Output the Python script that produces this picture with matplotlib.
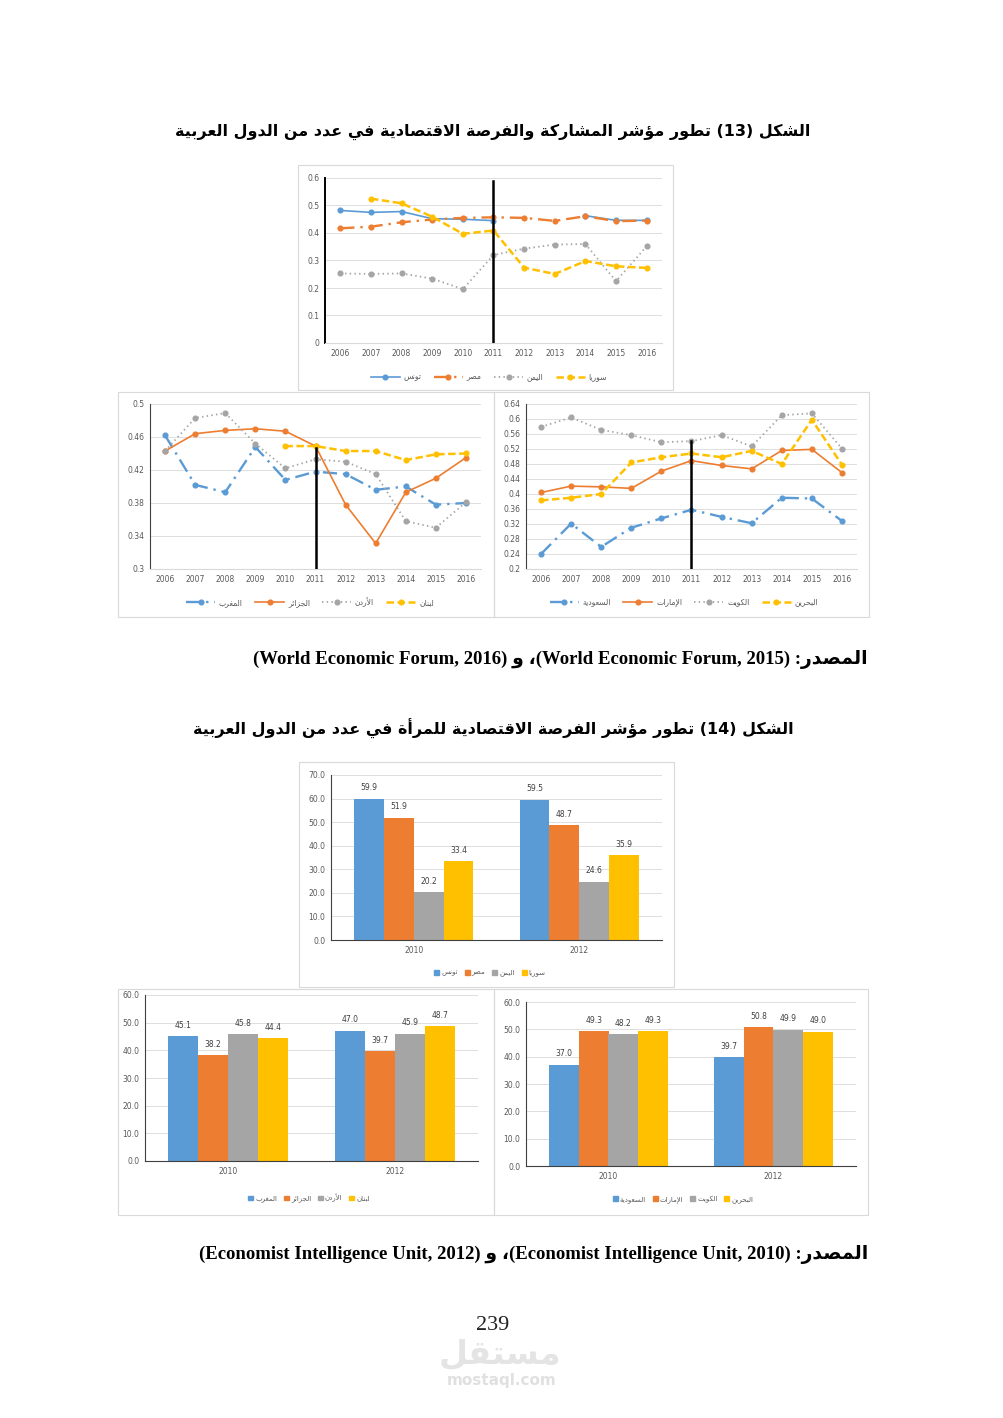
import numpy as np
import matplotlib
matplotlib.use('Agg')
import matplotlib.pyplot as plt
from matplotlib.patches import Rectangle, Patch

# Page size in pixels (dpi 100)
W, H = 1004, 1418

# ---------------------------------------------------------------------------
# Data
# ---------------------------------------------------------------------------
years = ['2006', '2007', '2008', '2009', '2010', '2011', '2012', '2013', '2014', '2015', '2016']
break_year = '2011'

# Figure 13, top chart
tunisia = [0.482, 0.475, 0.478, 0.452, 0.450, 0.445, np.nan, np.nan, 0.463, 0.446, 0.446]
egypt = [0.417, 0.423, 0.439, 0.449, 0.455, 0.457, 0.455, 0.444, 0.461, 0.443, 0.445]
yemen = [0.253, 0.251, 0.253, 0.234, 0.196, 0.320, 0.343, 0.358, 0.360, 0.225, 0.352]
syria = [np.nan, 0.525, 0.508, 0.459, 0.397, 0.409, 0.274, 0.251, 0.298, 0.279, 0.273]
top_names = ['تونس', 'مصر', 'اليمن', 'سوريا']
top_yticks = [0, 0.1, 0.2, 0.3, 0.4, 0.5, 0.6]
top_ylabels = ['0', '0.1', '0.2', '0.3', '0.4', '0.5', '0.6']
top_break_height = 0.59

# Figure 13, lower left chart
morocco = [0.462, 0.402, 0.393, 0.448, 0.408, 0.418, 0.415, 0.396, 0.400, 0.378, 0.380]
algeria = [0.443, 0.464, 0.468, 0.470, 0.467, 0.449, 0.378, 0.331, 0.393, 0.410, 0.435]
jordan = [0.443, 0.483, 0.489, 0.452, 0.422, 0.433, 0.430, 0.415, 0.358, 0.350, 0.381]
lebanon = [np.nan, np.nan, np.nan, np.nan, 0.449, 0.449, 0.443, 0.443, 0.432, 0.439, 0.440]
left_names = ['المغرب', 'الجزائر', 'الأردن', 'لبنان']
left_yticks = [0.30, 0.34, 0.38, 0.42, 0.46, 0.50]
left_ylabels = ['0.3', '0.34', '0.38', '0.42', '0.46', '0.5']
left_break_height = 0.447

# Figure 13, lower right chart
saudi = [0.240, 0.321, 0.259, 0.310, 0.335, 0.358, 0.339, 0.322, 0.390, 0.388, 0.328]
uae = [0.404, 0.421, 0.419, 0.415, 0.461, 0.489, 0.476, 0.467, 0.516, 0.519, 0.457]
kuwait = [0.579, 0.604, 0.571, 0.557, 0.538, 0.541, 0.557, 0.527, 0.610, 0.615, 0.521]
bahrain = [0.383, 0.390, 0.400, 0.484, 0.498, 0.508, 0.498, 0.515, 0.480, 0.598, 0.478]
right_names = ['السعودية', 'الإمارات', 'الكويت', 'البحرين']
right_yticks = [0.20, 0.24, 0.28, 0.32, 0.36, 0.40, 0.44, 0.48, 0.52, 0.56, 0.60, 0.64]
right_ylabels = ['0.2', '0.24', '0.28', '0.32', '0.36', '0.4', '0.44', '0.48', '0.52', '0.56', '0.6', '0.64']
right_break_height = 0.54

# Figure 14, bar charts (2010, 2012)
bar_years = ['2010', '2012']
bars_top = [[59.9, 59.5], [51.9, 48.7], [20.2, 24.6], [33.4, 35.9]]
bars_left = [[45.1, 47.0], [38.2, 39.7], [45.8, 45.9], [44.4, 48.7]]
bars_right = [[37.0, 39.7], [49.3, 50.8], [48.2, 49.9], [49.3, 49.0]]

title_13 = 'الشكل (13) تطور مؤشر المشاركة والفرصة الاقتصادية في عدد من الدول العربية'
title_14 = 'الشكل (14) تطور مؤشر الفرصة الاقتصادية للمرأة في عدد من الدول العربية'
source_word = 'المصدر:'
and_word = 'و'
page_number = '239'

colors = ['#5B9BD5', '#ED7D31', '#A5A5A5', '#FFC000']

# ---------------------------------------------------------------------------
# Arabic shaping: matplotlib has no text shaping, so letters are mapped to
# their presentation forms and put in visual (left-to-right) order.
# ---------------------------------------------------------------------------
AR_FORMS = {
    'ء': (0xFE80, 1), 'آ': (0xFE81, 2), 'أ': (0xFE83, 2), 'ؤ': (0xFE85, 2),
    'إ': (0xFE87, 2), 'ئ': (0xFE89, 4), 'ا': (0xFE8D, 2), 'ب': (0xFE8F, 4),
    'ة': (0xFE93, 2), 'ت': (0xFE95, 4), 'ث': (0xFE99, 4), 'ج': (0xFE9D, 4),
    'ح': (0xFEA1, 4), 'خ': (0xFEA5, 4), 'د': (0xFEA9, 2), 'ذ': (0xFEAB, 2),
    'ر': (0xFEAD, 2), 'ز': (0xFEAF, 2), 'س': (0xFEB1, 4), 'ش': (0xFEB5, 4),
    'ص': (0xFEB9, 4), 'ض': (0xFEBD, 4), 'ط': (0xFEC1, 4), 'ظ': (0xFEC5, 4),
    'ع': (0xFEC9, 4), 'غ': (0xFECD, 4), 'ف': (0xFED1, 4), 'ق': (0xFED5, 4),
    'ك': (0xFED9, 4), 'ل': (0xFEDD, 4), 'م': (0xFEE1, 4), 'ن': (0xFEE5, 4),
    'ه': (0xFEE9, 4), 'و': (0xFEED, 2), 'ى': (0xFEEF, 2), 'ي': (0xFEF1, 4),
}
LAM_ALEF = {'آ': 0xFEF5, 'أ': 0xFEF7, 'إ': 0xFEF9, 'ا': 0xFEFB}


def shape_word(word):
    units = []
    i = 0
    while i < len(word):
        c = word[i]
        if c == 'ل' and i + 1 < len(word) and word[i + 1] in LAM_ALEF:
            units.append((LAM_ALEF[word[i + 1]], 2))
            i += 2
            continue
        if c in AR_FORMS:
            units.append(AR_FORMS[c])
        else:
            units.append((c, 0))
        i += 1
    out = []
    for j, (code, n) in enumerate(units):
        if n == 0:
            out.append(code)
            continue
        prev = j > 0 and units[j - 1][1] == 4
        nxt = n == 4 and j + 1 < len(units) and units[j + 1][1] >= 1
        if n == 1:
            k = 0
        elif n == 2:
            k = 1 if prev else 0
        else:
            k = 3 if (prev and nxt) else 2 if nxt else 1 if prev else 0
        out.append(chr(code + k))
    return ''.join(out)


def ar(text):
    words = text.split(' ')
    res = []
    for w in reversed(words):
        if any(c in AR_FORMS for c in w):
            res.append(shape_word(w)[::-1])
        else:
            res.append(w)
    return ' '.join(res)


# ---------------------------------------------------------------------------
# Figure helpers
# ---------------------------------------------------------------------------
fig = plt.figure(figsize=(W / 100, H / 100), dpi=100)
fig.patch.set_facecolor('white')
AR_FONT = ['DejaVu Sans']


def px_axes(left, top, right, bottom):
    return fig.add_axes([left / W, 1 - bottom / H, (right - left) / W, (bottom - top) / H])


def frame(left, top, right, bottom):
    fig.add_artist(Rectangle((left / W, 1 - bottom / H), (right - left) / W, (bottom - top) / H,
                             transform=fig.transFigure, fill=False, edgecolor='#d9d9d9', lw=0.8))


def style_axes(ax, left_color, left_width, bottom_color):
    for s in ['top', 'right']:
        ax.spines[s].set_visible(False)
    ax.spines['left'].set_color(left_color)
    ax.spines['left'].set_linewidth(left_width)
    ax.spines['bottom'].set_color(bottom_color)
    ax.spines['bottom'].set_linewidth(0.8)
    ax.grid(axis='y', color='#d9d9d9', lw=0.6)
    ax.set_axisbelow(True)


line_styles = [
    dict(lw=1.2, ls='-'),
    dict(lw=1.7, dashes=(6, 2.5, 1, 2.5)),
    dict(lw=1.3, dashes=(0.8, 1.8)),
    dict(lw=1.8, dashes=(3, 1.4)),
]


def line_chart(rect, series, names, styles, yticks, ylabels, break_height, legend_xy,
               left_color='#404040', left_width=0.8):
    ax = px_axes(*rect)
    x = np.arange(len(years))
    for values, name, color, st in zip(series, names, colors, styles):
        ax.plot(x, values, color=color, marker='o', markersize=3.4, label=ar(name), **st)
    bx = years.index(break_year)
    ax.plot([bx, bx], [yticks[0], break_height], color='black', lw=1.8, zorder=5)
    ax.set_xlim(-0.5, len(years) - 0.5)
    ax.set_ylim(yticks[0], yticks[-1])
    ax.set_xticks(x)
    ax.set_xticklabels(years)
    ax.set_yticks(yticks)
    ax.set_yticklabels(ylabels)
    ax.tick_params(length=0, labelsize=5.5, colors='#595959', pad=4)
    style_axes(ax, left_color, left_width, '#d9d9d9')
    leg = ax.legend(loc='center', bbox_to_anchor=(legend_xy[0] / W, 1 - legend_xy[1] / H),
                    bbox_transform=fig.transFigure, ncol=4, frameon=False,
                    prop={'family': AR_FONT, 'size': 5.5}, handlelength=3.8,
                    columnspacing=1.6, handletextpad=0.5)
    for t in leg.get_texts():
        t.set_color('#595959')
    return ax


def bar_chart(rect, groups, names, ymax, legend_xy):
    ax = px_axes(*rect)
    x = np.arange(len(bar_years))
    width = 0.18
    for i, (vals, name, color) in enumerate(zip(groups, names, colors)):
        pos = x + (i - 1.5) * width
        ax.bar(pos, vals, width, color=color, label=ar(name))
        for px, v in zip(pos, vals):
            ax.annotate(f'{v:.1f}', (px, v), xytext=(0, 8), textcoords='offset points',
                        ha='center', va='center', fontsize=5.5, color='#404040')
    ax.set_xlim(-0.5, len(bar_years) - 0.5)
    ax.set_ylim(0, ymax)
    ax.set_xticks(x)
    ax.set_xticklabels(bar_years)
    ticks = np.arange(0, ymax + 1, 10)
    ax.set_yticks(ticks)
    ax.set_yticklabels([f'{t:.1f}' for t in ticks])
    ax.tick_params(length=0, labelsize=5.5, colors='#595959', pad=4)
    style_axes(ax, '#404040', 0.8, '#404040')
    handles = [Patch(color=c, label=ar(n)) for c, n in zip(colors, names)]
    leg = ax.legend(handles=handles, loc='center',
                    bbox_to_anchor=(legend_xy[0] / W, 1 - legend_xy[1] / H),
                    bbox_transform=fig.transFigure, ncol=4, frameon=False,
                    prop={'family': AR_FONT, 'size': 5.0}, handlelength=0.7,
                    handleheight=0.7, columnspacing=1.0, handletextpad=0.3)
    for t in leg.get_texts():
        t.set_color('#595959')
    return ax


# ---------------------------------------------------------------------------
# Figure 13
# ---------------------------------------------------------------------------
fig.text(493 / W, 1 - 132 / H, ar(title_13), ha='center', va='center',
         family=AR_FONT, weight='bold', fontsize=11.5)

frame(298, 165, 673, 390)
line_chart((325, 178, 662, 343), [tunisia, egypt, yemen, syria], top_names,
           [line_styles[0], line_styles[1], line_styles[2], line_styles[3]],
           top_yticks, top_ylabels, top_break_height, (489, 377),
           left_color='black', left_width=1.4)

frame(118, 392, 494, 617)
line_chart((150, 404, 481, 569), [morocco, algeria, jordan, lebanon], left_names,
           [line_styles[1], line_styles[0], line_styles[2], line_styles[3]],
           left_yticks, left_ylabels, left_break_height, (310, 602))

frame(494, 392, 869, 617)
line_chart((526, 404, 857, 569), [saudi, uae, kuwait, bahrain], right_names,
           [line_styles[1], line_styles[0], line_styles[2], line_styles[3]],
           right_yticks, right_ylabels, right_break_height, (684, 602))

src_13 = f'(World Economic Forum, 2016) {ar(and_word)} ،(World Economic Forum, 2015) {ar(source_word)}'
fig.text(868 / W, 1 - 659 / H, src_13, ha='right', va='center',
         family=['Liberation Serif', 'DejaVu Sans'], weight='bold', fontsize=13.5)

# ---------------------------------------------------------------------------
# Figure 14
# ---------------------------------------------------------------------------
fig.text(493 / W, 1 - 729 / H, ar(title_14), ha='center', va='center',
         family=AR_FONT, weight='bold', fontsize=11.5)

frame(299, 762, 674, 987)
bar_chart((331, 775, 662, 940), bars_top, top_names, 70, (490, 973))

frame(118, 989, 494, 1215)
bar_chart((145, 995, 478, 1161), bars_left, left_names, 60, (309, 1198))

frame(494, 989, 868, 1215)
bar_chart((526, 1002, 856, 1166), bars_right, right_names, 60, (683, 1199))

src_14 = f'(Economist Intelligence Unit, 2012) {ar(and_word)} ،(Economist Intelligence Unit, 2010) {ar(source_word)}'
fig.text(868 / W, 1 - 1255 / H, src_14, ha='right', va='center',
         family=['Liberation Serif', 'DejaVu Sans'], weight='bold', fontsize=13.5)

# Page number and watermark
fig.text(493 / W, 1 - 1325 / H, page_number, ha='center', va='center',
         family='Liberation Serif', fontsize=16, color='#222222')
fig.text(500 / W, 1 - 1354 / H, ar('مستقل'), ha='center', va='center',
         family=AR_FONT, weight='bold', fontsize=24, color='#e4e4e4')
fig.text(502 / W, 1 - 1380 / H, 'mostaql.com', ha='center', va='center',
         family='DejaVu Sans', weight='bold', fontsize=11, color='#e0e0e0')

fig.savefig('out.png', dpi=100, facecolor='white')
